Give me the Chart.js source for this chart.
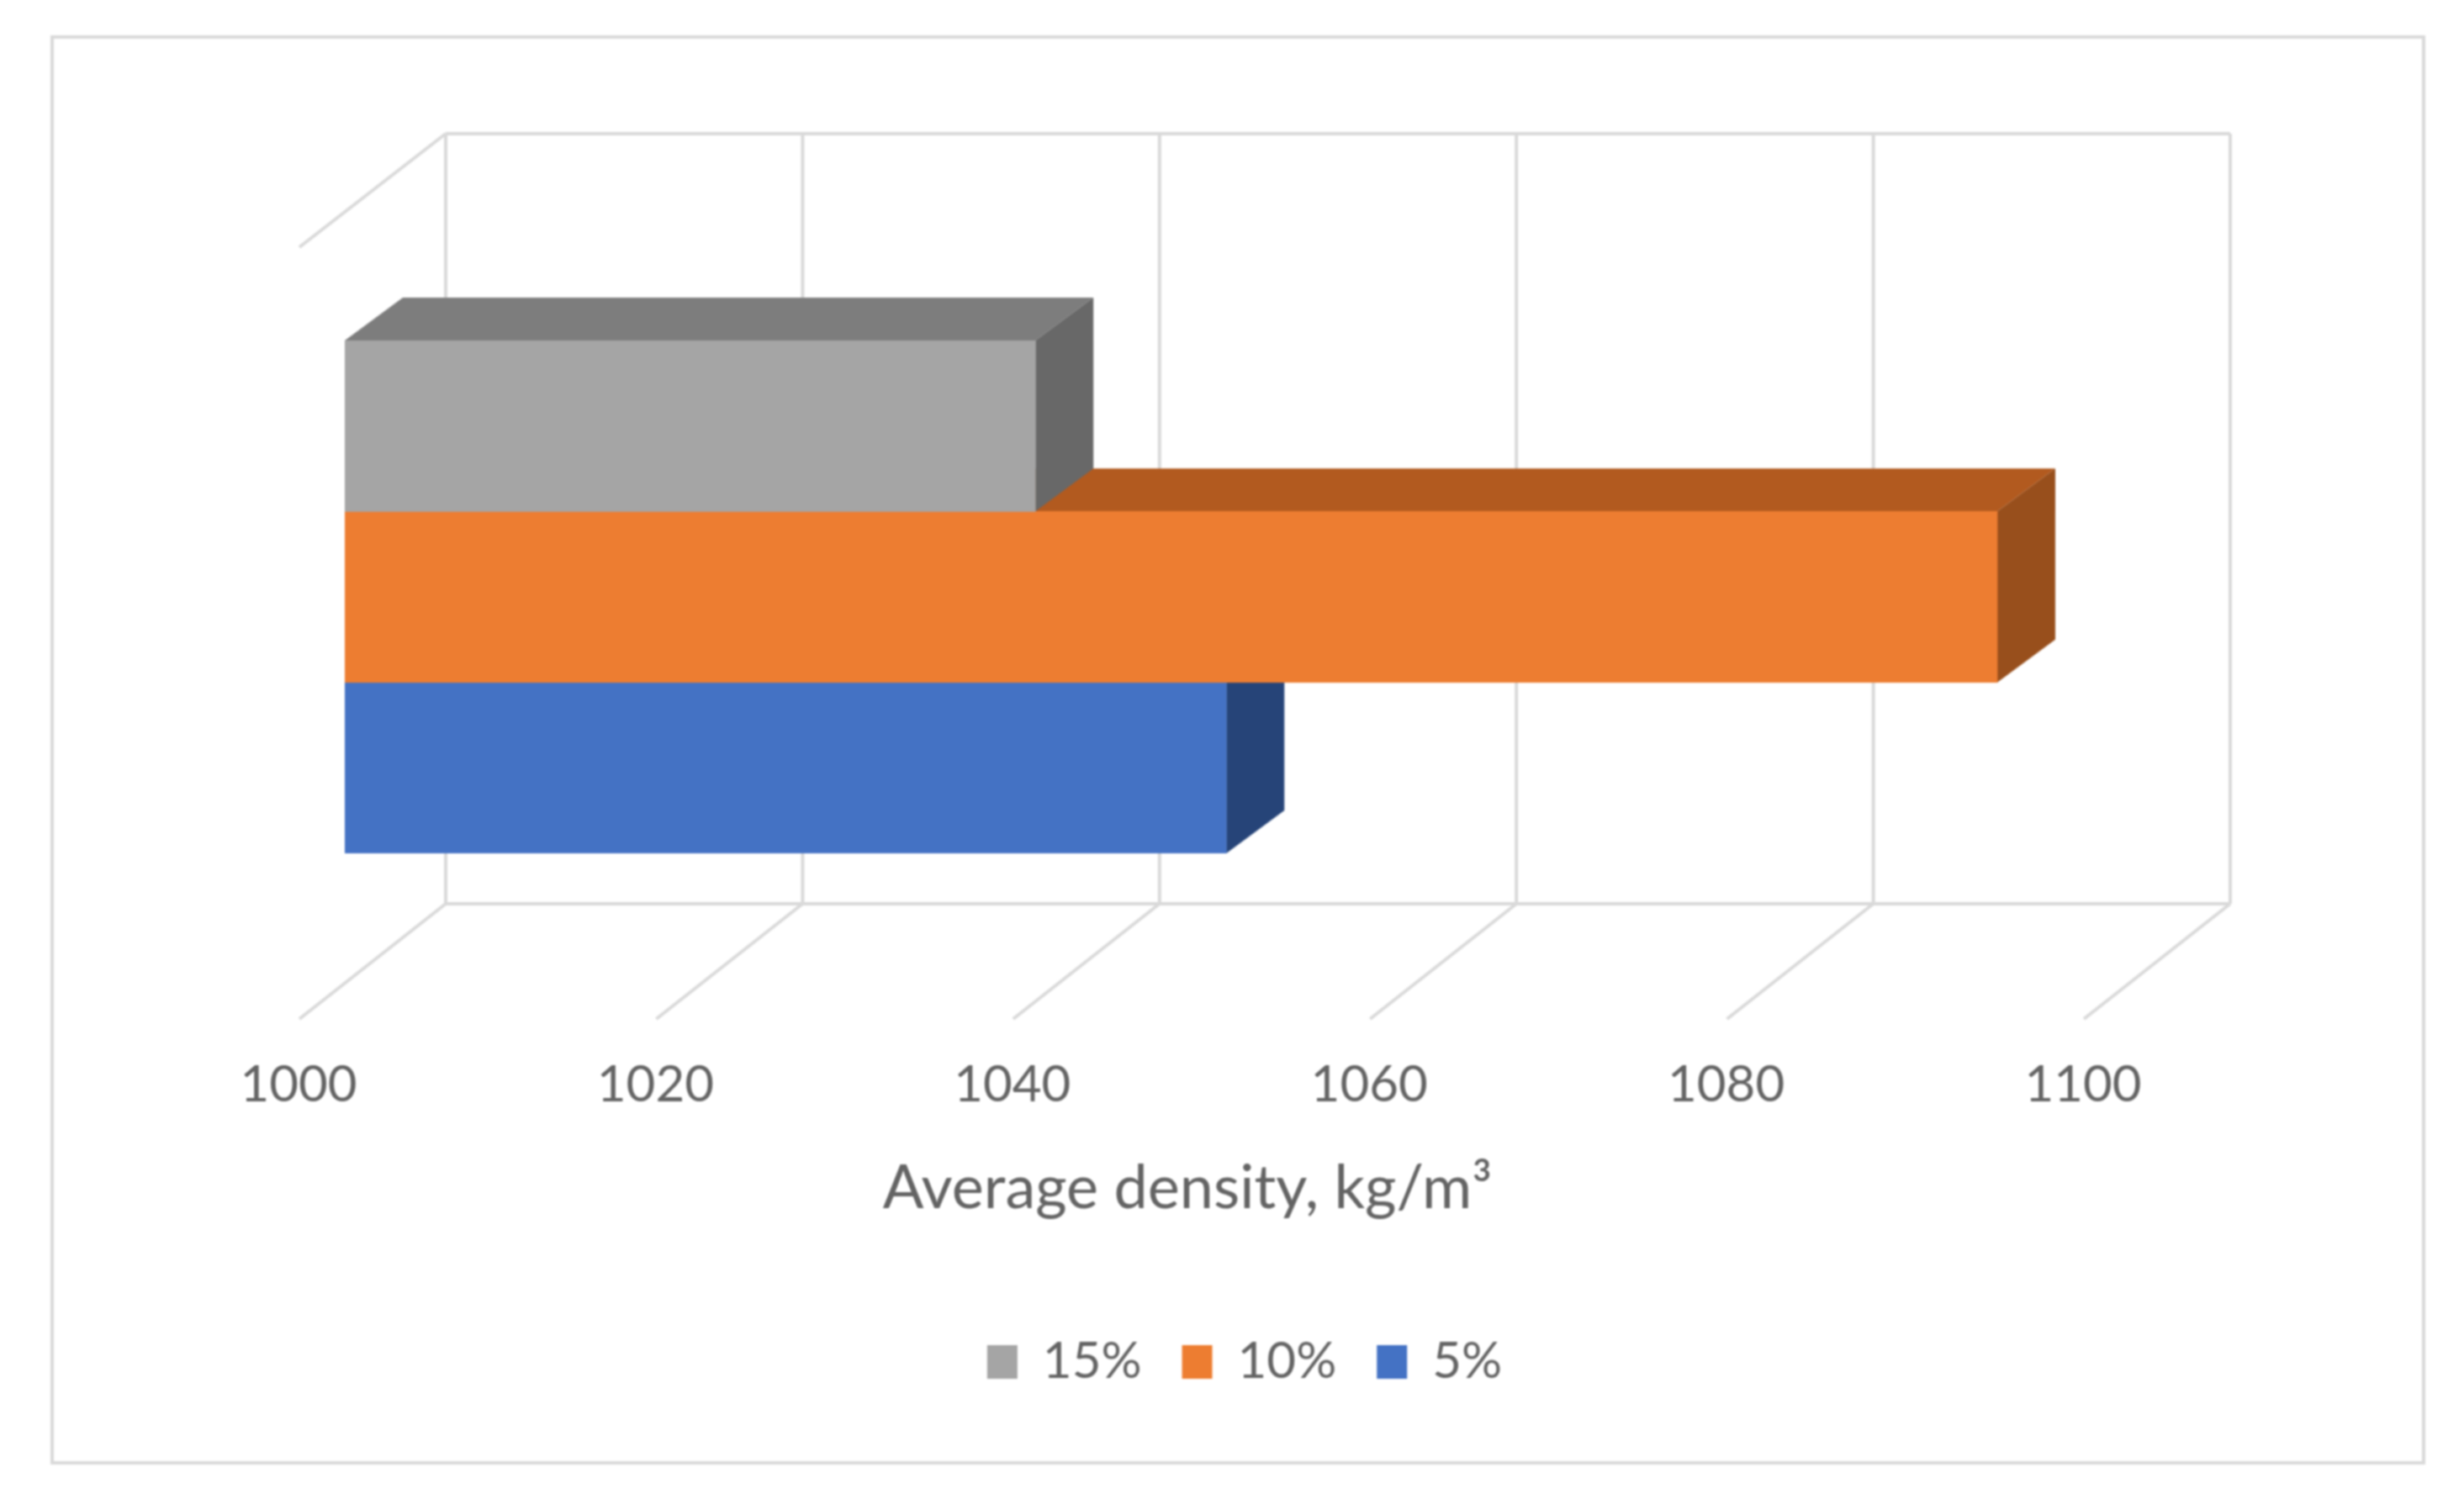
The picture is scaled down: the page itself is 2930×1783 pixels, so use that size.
<!DOCTYPE html>
<html>
<head>
    <title>Average density</title>
    <script src="https://cdn.jsdelivr.net/npm/chart.js"></script>
    <style>
        html, body { margin: 0; padding: 0; background: #fff; }
        canvas { display: block; filter: blur(0.8px); }
    </style>
</head>
<body>

<canvas id="densityChart" width="2930" height="1783"></canvas>

<script>
    const categories = ['Average density'];
    const seriesNames = ['15%', '10%', '5%'];
    const values15 = [1038.7];
    const values10 = [1092.6];
    const values5 = [1049.4];
    const tickValues = [1000, 1020, 1040, 1060, 1080, 1100];
    const axisTitle = 'Average density, kg/m³';

    const frontColors = ['#a5a5a5', '#ed7d31', '#4472c4'];
    const topColors = ['#7d7d7d', '#b25a1f', '#335593'];
    const sideColors = ['#686868', '#984f1c', '#264478'];

    const textFont = 'Lato';
    const textColor = '#636363';
    const gridColor = '#d9d9d9';

    // depth of the bars and of the floor, relative to the front of the bars
    const barDepth = { x: 69, y: -51 };
    const wallShift = 120;
    const floorShift = -54;

    const box3d = {
        id: 'box3d',
        afterLayout(chart) {
            // legend is centred a little to the right of the plot
            chart.legend.left += 9;
            chart.legend.right += 9;
        },
        beforeDatasetsDraw(chart) {
            const ctx = chart.ctx;
            const xScale = chart.scales.x;
            const area = chart.chartArea;
            const wallTop = area.top - 246;
            const wallBottom = area.bottom + 60;
            const floorFront = area.bottom + 197;
            const left = xScale.getPixelForValue(1000);

            ctx.save();
            ctx.strokeStyle = '#d9d9d9';
            ctx.lineWidth = 4;
            ctx.strokeRect(62, 44, 2820, 1696);

            ctx.strokeStyle = gridColor;
            ctx.lineWidth = 4;
            const line = (x1, y1, x2, y2) => {
                ctx.beginPath();
                ctx.moveTo(x1, y1);
                ctx.lineTo(x2, y2);
                ctx.stroke();
            };
            tickValues.forEach(v => {
                const x = xScale.getPixelForValue(v);
                line(x + wallShift, wallTop, x + wallShift, wallBottom);
                line(x + wallShift, wallBottom, x + floorShift, floorFront);
            });
            const right = xScale.getPixelForValue(1100);
            line(left + wallShift, wallTop, right + wallShift, wallTop);
            line(left + wallShift, wallBottom, right + wallShift, wallBottom);
            line(left + wallShift, wallTop, left + floorShift, wallTop + 135);

            // back faces first so the nearer bars cover them
            for (let i = seriesNames.length - 1; i >= 0; i--) {
                const bar = chart.getDatasetMeta(i).data[0];
                const top = bar.y - bar.height / 2;
                const bottom = bar.y + bar.height / 2;

                ctx.fillStyle = topColors[i];
                ctx.beginPath();
                ctx.moveTo(left, top);
                ctx.lineTo(left + barDepth.x, top + barDepth.y);
                ctx.lineTo(bar.x + barDepth.x, top + barDepth.y);
                ctx.lineTo(bar.x, top);
                ctx.closePath();
                ctx.fill();

                ctx.fillStyle = sideColors[i];
                ctx.beginPath();
                ctx.moveTo(bar.x, top);
                ctx.lineTo(bar.x + barDepth.x, top + barDepth.y);
                ctx.lineTo(bar.x + barDepth.x, bottom + barDepth.y);
                ctx.lineTo(bar.x, bottom);
                ctx.closePath();
                ctx.fill();
            }
            ctx.restore();
        },
        afterDraw(chart) {
            // the title sits under the front edge of the floor, not under the bars
            const ctx = chart.ctx;
            const xScale = chart.scales.x;
            const centre = (xScale.getPixelForValue(1000) + xScale.getPixelForValue(1100)) / 2 + floorShift;
            ctx.save();
            ctx.fillStyle = textColor;
            ctx.font = '72px ' + textFont;
            ctx.textAlign = 'center';
            ctx.textBaseline = 'middle';
            ctx.fillText(axisTitle, centre - 5, 1414);
            ctx.restore();
        }
    };

    const densityChart = new Chart(document.getElementById('densityChart').getContext('2d'), {
        type: 'bar',
        plugins: [box3d],
        data: {
            labels: categories,
            datasets: [
                { label: seriesNames[0], data: values15, backgroundColor: frontColors[0] },
                { label: seriesNames[1], data: values10, backgroundColor: frontColors[1] },
                { label: seriesNames[2], data: values5, backgroundColor: frontColors[2] }
            ]
        },
        options: {
            indexAxis: 'y',
            responsive: false,
            animation: false,
            layout: {
                padding: { left: 410, right: 398, top: 405, bottom: 123 }
            },
            datasets: {
                bar: { categoryPercentage: 1, barPercentage: 1, borderWidth: 0 }
            },
            scales: {
                x: {
                    type: 'linear',
                    min: 1000,
                    max: 1100,
                    afterFit: scale => { scale.height = 527; },
                    grid: { display: false, drawTicks: false },
                    border: { display: false },
                    ticks: {
                        stepSize: 20,
                        padding: 240,
                        labelOffset: floorShift - 1,
                        maxRotation: 0,
                        color: textColor,
                        font: { family: textFont, size: 60 },
                        callback: v => String(v)
                    }
                },
                y: { display: false }
            },
            plugins: {
                tooltip: { enabled: false },
                legend: {
                    position: 'bottom',
                    labels: {
                        boxWidth: 36,
                        boxHeight: 40,
                        padding: 48,
                        color: textColor,
                        font: { family: textFont, size: 60 }
                    }
                }
            }
        }
    });
</script>

</body>
</html>
